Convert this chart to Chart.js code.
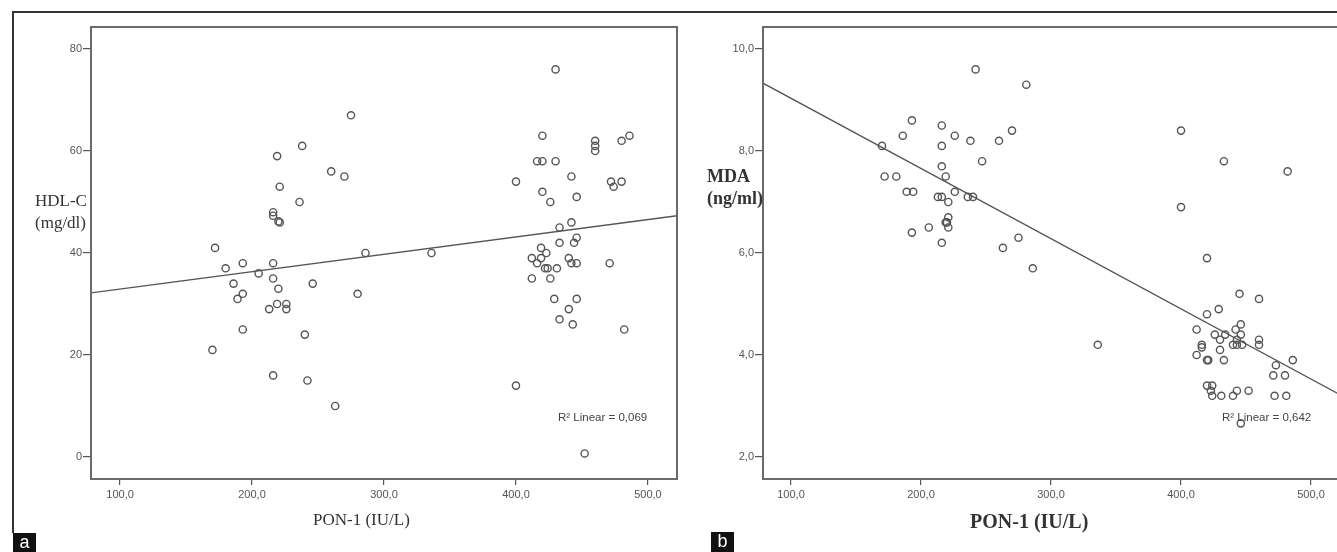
<!DOCTYPE html>
<html>
<head>
<meta charset="utf-8">
<script src="https://cdn.jsdelivr.net/npm/chart.js@4.4.1/dist/chart.umd.min.js"></script>
<style>
  body { margin: 0; width: 1337px; height: 552px; overflow: hidden; background: #fff; position: relative; }
  canvas { position: absolute; top: 0; }
  .txt { position: absolute; white-space: nowrap; color: #333; }
  .serif { font-family: "Liberation Serif", "Times New Roman", serif; }
  .sans { font-family: "Liberation Sans", Arial, sans-serif; }
  .tag { position: absolute; background: #111; color: #fff; font-family: "Liberation Sans", Arial, sans-serif;
         font-size: 18px; width: 23px; height: 20px; line-height: 18px; text-align: center; }
  .rule { position: absolute; background: #333; }
</style>
</head>
<body>
<div class="rule" style="left:13px;top:11px;width:1324px;height:2px"></div>
<div class="rule" style="left:12px;top:11px;width:2px;height:522px"></div>

<canvas id="chartA" width="690" height="552" style="left:0;width:690px;height:552px"></canvas>
<canvas id="chartB" width="660" height="552" style="left:690px;width:660px;height:552px"></canvas>

<div class="txt serif" style="left:35px;top:190px;font-size:17px;line-height:22px">HDL-C<br>(mg/dl)</div>
<div class="txt serif" style="left:313px;top:509px;font-size:17px;line-height:22px">PON-1 (IU/L)</div>
<div class="txt sans" style="left:558px;top:410px;font-size:11.5px;line-height:14px;color:#444">R² Linear = 0,069</div>

<div class="txt serif" style="left:707px;top:165px;font-size:18px;line-height:22px;font-weight:bold">MDA<br>(ng/ml)</div>
<div class="txt serif" style="left:970px;top:509px;font-size:20px;line-height:24px;font-weight:bold">PON-1 (IU/L)</div>
<div class="txt sans" style="left:1222px;top:410px;font-size:11.5px;line-height:14px;color:#444">R² Linear = 0,642</div>

<div class="tag" style="left:13px;top:533px">a</div>
<div class="tag" style="left:711px;top:532px">b</div>

<script>
// panel a: PON-1 vs HDL-C
const ponA = [275, 238, 219, 260, 270, 221, 236, 216, 216, 220, 221, 172, 286, 180, 193, 216, 205, 216,
  186, 246, 220, 193, 189, 280, 219, 226, 213, 226, 193, 240, 170, 216, 242, 263, 336,
  430, 420, 460, 460, 460, 480, 486, 416, 420, 430, 400, 442, 472, 474, 480, 420, 426, 446,
  442, 433, 446, 433, 444, 419, 423, 412, 419, 416, 440, 442, 446, 471, 422, 424, 431,
  412, 426, 429, 446, 440, 433, 443, 482, 400, 452];
const hdlC = [67, 61, 59, 56, 55, 53, 50, 48, 47.3, 46.2, 46, 41, 40, 37, 38, 38, 36, 35,
  34, 34, 33, 32, 31, 32, 30, 30, 29, 29, 25, 24, 21, 16, 15, 10, 40,
  76, 63, 62, 61, 60, 62, 63, 58, 58, 58, 54, 55, 54, 53, 54, 52, 50, 51,
  46, 45, 43, 42, 42, 41, 40, 39, 39, 38, 39, 38, 38, 38, 37, 37, 37,
  35, 35, 31, 31, 29, 27, 26, 25, 14, 0.7];
const fitAX = [78, 522];
const fitAY = [32.2, 47.3];

// panel b: PON-1 vs MDA
const ponB = [242, 281, 193, 216, 186, 226, 238, 260, 270, 170, 216, 247, 216, 172, 181, 219, 189, 194,
  226, 213, 216, 236, 240, 221, 221, 219, 220, 221, 206, 193, 216, 275, 263, 286,
  400, 433, 482, 400, 420, 445, 460, 420, 429, 412, 426, 434, 442, 446, 446, 430, 443, 440,
  443, 447, 460, 460, 416, 416, 412, 430, 420, 421, 433, 486, 473, 471, 480, 420, 424,
  423, 424, 431, 440, 443, 452, 472, 481, 446, 336];
const mda = [9.6, 9.3, 8.6, 8.5, 8.3, 8.3, 8.2, 8.2, 8.4, 8.1, 8.1, 7.8, 7.7, 7.5, 7.5, 7.5, 7.2, 7.2,
  7.2, 7.1, 7.1, 7.1, 7.1, 7.0, 6.7, 6.6, 6.6, 6.5, 6.5, 6.4, 6.2, 6.3, 6.1, 5.7,
  8.4, 7.8, 7.6, 6.9, 5.9, 5.2, 5.1, 4.8, 4.9, 4.5, 4.4, 4.4, 4.5, 4.6, 4.4, 4.3, 4.3, 4.2,
  4.2, 4.2, 4.3, 4.2, 4.2, 4.15, 4.0, 4.1, 3.9, 3.9, 3.9, 3.9, 3.8, 3.6, 3.6, 3.4, 3.4,
  3.3, 3.2, 3.2, 3.2, 3.3, 3.3, 3.2, 3.2, 2.66, 4.2];
const fitBX = [78.46, 522.3];
const fitBY = [9.33, 3.22];

const xTicks = [100, 200, 300, 400, 500];
const yTicksA = [0, 20, 40, 60, 80];
const yTicksB = [2, 4, 6, 8, 10];

const tickFont = { family: '"Liberation Sans", Arial, sans-serif', size: 11 };
const comma = v => v.toFixed(1).replace('.', ',');

const frame = {
  id: 'frame',
  afterDraw(chart) {
    const a = chart.chartArea, ctx = chart.ctx;
    ctx.save();
    ctx.strokeStyle = '#6a6a6a';
    ctx.lineWidth = 2;
    ctx.strokeRect(a.left, a.top, a.right - a.left, a.bottom - a.top);
    ctx.restore();
  }
};

function makeChart(id, xs, ys, fx, fy, xr, yr, yTicks, yFmt, pad) {
  return new Chart(document.getElementById(id), {
    type: 'scatter',
    data: {
      datasets: [{
        data: xs.map((x, i) => ({ x: x, y: ys[i] })),
        pointRadius: 3.6,
        pointBorderWidth: 1.4,
        pointBorderColor: '#555',
        pointBackgroundColor: 'rgba(0,0,0,0)'
      }, {
        data: fx.map((x, i) => ({ x: x, y: fy[i] })),
        showLine: true,
        pointRadius: 0,
        borderColor: '#555',
        borderWidth: 1.3
      }]
    },
    options: {
      responsive: false,
      animation: false,
      layout: { padding: pad },
      plugins: { legend: { display: false }, tooltip: { enabled: false } },
      scales: {
        x: {
          type: 'linear', min: xr[0], max: xr[1],
          afterBuildTicks: s => { s.ticks = xTicks.map(v => ({ value: v })); },
          afterFit: s => { s.height = 30; },
          ticks: { callback: comma, color: '#555', font: tickFont, padding: 3, maxRotation: 0 },
          grid: { drawOnChartArea: false, drawTicks: true, tickLength: 6, color: '#555', lineWidth: 1.2 },
          border: { display: false }
        },
        y: {
          type: 'linear', min: yr[0], max: yr[1],
          afterBuildTicks: s => { s.ticks = yTicks.map(v => ({ value: v })); },
          afterFit: s => { s.width = 60; },
          ticks: { callback: yFmt, color: '#555', font: tickFont, padding: 1 },
          grid: { drawOnChartArea: false, drawTicks: true, tickLength: 8, color: '#555', lineWidth: 1.2 },
          border: { display: false }
        }
      }
    },
    plugins: [frame]
  });
}

makeChart('chartA', ponA, hdlC, fitAX, fitAY, [78, 522], [-4.31, 84.31], yTicksA, v => String(v),
  { left: 31, top: 27, right: 13, bottom: 43 });
makeChart('chartB', ponB, mda, fitBX, fitBY, [78.46, 522.3], [1.569, 10.431], yTicksB, comma,
  { left: 13, top: 27, right: 10, bottom: 43 });
</script>
</body>
</html>
